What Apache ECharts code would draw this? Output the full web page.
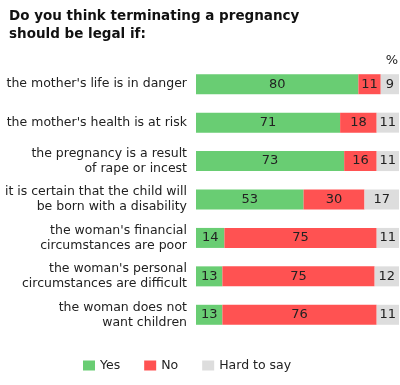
<!DOCTYPE html>
<html><head><meta charset="utf-8">
<script src="https://cdn.jsdelivr.net/npm/echarts@6/dist/echarts.min.js"></script>
<style>html,body{margin:0;padding:0;background:#fff}#c{width:400px;height:385px}</style>
</head><body><div id="c"></div>
<script>
const categories = [
  "the mother's life is in danger",
  "the mother's health is at risk",
  "the pregnancy is a result\nof rape or incest",
  "it is certain that the child will\nbe born with a disability",
  "the woman's financial\ncircumstances are poor",
  "the woman's personal\ncircumstances are difficult",
  "the woman does not\nwant children"
];
const yes = [80, 71, 73, 53, 14, 13, 13];
const no = [11, 18, 16, 30, 75, 75, 76];
const hard = [9, 11, 11, 17, 11, 12, 11];
const seriesNames = ["Yes", "No", "Hard to say"];
const colors = ["#69cd73", "#ff5252", "#dddddd"];

const chart = echarts.init(document.getElementById('c'), null, {renderer: 'canvas'});
const font = 'DejaVu Sans, Verdana, sans-serif';
function mk(name, data, color) {
  return {
    name, type: 'bar', stack: 'a', data, barWidth: 20,
    itemStyle: {color},
    label: {show: true, position: 'inside', color: '#222', fontSize: 13, fontFamily: font},
    emphasis: {disabled: true}
  };
}
chart.setOption({
  animation: false,
  title: {
    text: "Do you think terminating a pregnancy\nshould be legal if:",
    left: 9, top: 7, padding: 0,
    textStyle: {fontFamily: font, fontSize: 13.5, fontWeight: 'bold', color: '#111', lineHeight: 18}
  },
  graphic: [{type: 'text', right: 2, top: 54, style: {text: '%', font: '13px ' + font, fill: '#222'}}],
  legend: {
    bottom: 8, left: 78, itemWidth: 12, itemHeight: 10, itemGap: 24,
    icon: 'rect',
    textStyle: {fontFamily: font, fontSize: 12.5, color: '#222'},
    data: seriesNames
  },
  grid: {left: 196, right: 1, top: 65, bottom: 51, containLabel: false},
  xAxis: {type: 'value', min: 0, max: 100, show: false},
  yAxis: {
    type: 'category', data: categories, inverse: true,
    axisLine: {show: false}, axisTick: {show: false},
    axisLabel: {fontFamily: font, fontSize: 12.5, color: '#222', margin: 9, lineHeight: 15, align: 'right'}
  },
  series: [mk(seriesNames[0], yes, colors[0]), mk(seriesNames[1], no, colors[1]), mk(seriesNames[2], hard, colors[2])]
});
</script></body></html>
